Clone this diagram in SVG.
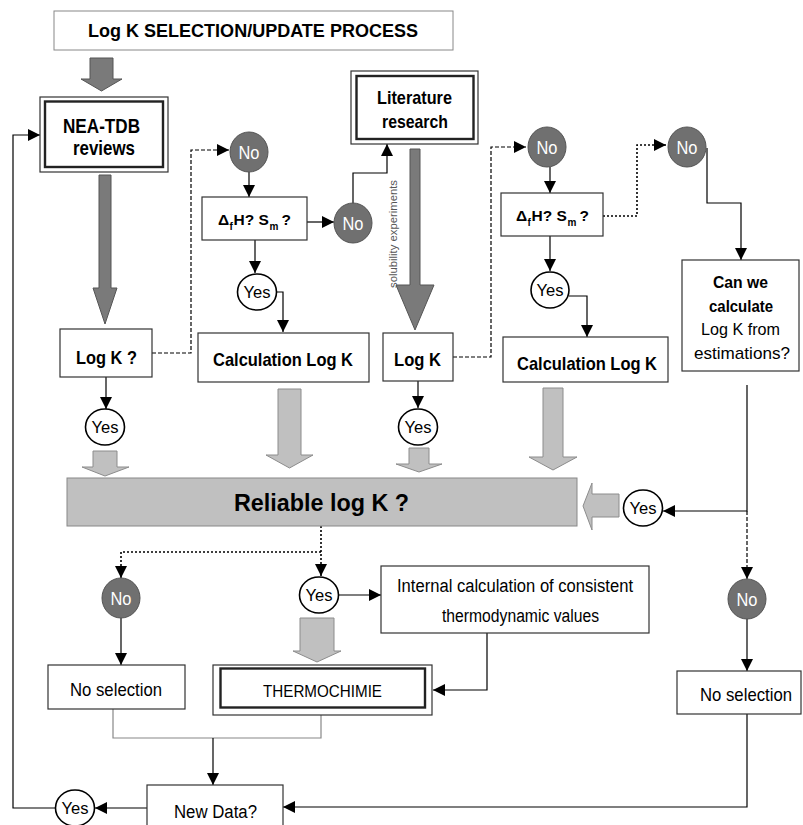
<svg xmlns="http://www.w3.org/2000/svg" width="803" height="825" viewBox="0 0 803 825">
<style>
text{font-family:"Liberation Sans",Arial,sans-serif;fill:#000}
.b{font-weight:bold}
.box{fill:#fff;stroke:#333;stroke-width:1.2}
.thick{fill:none;stroke:#222;stroke-width:2.4}
.no{fill:#707070;stroke:#555;stroke-width:1}
.yes{fill:#fff;stroke:#000;stroke-width:1.6}
.not{fill:#fff;font-size:18px}
.yt{font-size:17px}
.ln{fill:none;stroke:#000;stroke-width:1.2}
.dash{stroke-dasharray:4 2}
.dot{stroke-dasharray:2 2;stroke-width:1.6}
.dk{fill:#7a7a7a;stroke:#555;stroke-width:1}
.lt{fill:#c0c0c0;stroke:#8c8c8c;stroke-width:1}
.dh{font-weight:bold;font-size:15.5px}
.sub{font-weight:bold;font-size:10px}
</style>
<defs>
<marker id="ah" viewBox="0 0 10 10" refX="10" refY="5" markerWidth="12" markerHeight="12" orient="auto" markerUnits="userSpaceOnUse"><path d="M0,0 L10,5 L0,10 z" fill="#000"/></marker>
</defs>

<g id="connectors">
<polygon class="dk" points="90,58 113,58 113,79 122,79 101.5,91 81,79 90,79"/>
<polygon class="dk" points="99,175 111,175 111,288 117,288 105,324 93,288 99,288"/>
<polygon class="dk" points="410,149 420,149 420,285 434,285 415,330 396,285 410,285"/>
<polygon class="lt" points="93,451 117,451 117,467 129,467 105,476 82,467 93,467"/>
<polygon class="lt" points="278,389 301,389 301,455 313,455 289.5,468 266,455 278,455"/>
<polygon class="lt" points="409,448 429,448 429,464 442,464 419,472 396,464 409,464"/>
<polygon class="lt" points="543,388 563,388 563,457 577,457 553,470 529,457 543,457"/>
<polygon class="lt" points="300,618 334,618 334,651 341,651 317,662 293,651 300,651"/>
<polygon class="lt" points="619,494 619,517 592,517 592,530 583,506 592,483 592,494"/>
<path class="ln" d="M55,808 H13 V135 H40" marker-end="url(#ah)"/>
<path class="ln" d="M147,808 H95" marker-end="url(#ah)"/>
<path class="ln" d="M106,377 V409" marker-end="url(#ah)"/>
<path class="ln dash" d="M152,353 H191 V150 H229" marker-end="url(#ah)"/>
<path class="ln" d="M249,172 V197" marker-end="url(#ah)"/>
<path class="ln" d="M307,222 H334" marker-end="url(#ah)"/>
<path class="ln" d="M353,204 V173 H387 V144" marker-end="url(#ah)"/>
<path class="ln" d="M255,240 V273" marker-end="url(#ah)"/>
<path class="ln" d="M276,292 H283 V332" marker-end="url(#ah)"/>
<path class="ln" d="M418,381 V408" marker-end="url(#ah)"/>
<path class="ln dash" d="M453,357 H491 V147 H526" marker-end="url(#ah)"/>
<path class="ln" d="M550,167 V193" marker-end="url(#ah)"/>
<path class="ln" d="M550,236 V271" marker-end="url(#ah)"/>
<path class="ln" d="M569,296 H587 V337" marker-end="url(#ah)"/>
<path class="ln dot" d="M603,216 H637 V145 H666" marker-end="url(#ah)"/>
<path class="ln" d="M707,148 V203 H741 V260" marker-end="url(#ah)"/>
<path class="ln" d="M747,385 V511 H663" marker-end="url(#ah)"/>
<path class="ln dash" d="M747,511 V579" marker-end="url(#ah)"/>
<path class="ln" d="M747,619 V671" marker-end="url(#ah)"/>
<path class="ln" d="M747,714 V807 H283" marker-end="url(#ah)"/>
<path class="ln dot" d="M321,526 V576" marker-end="url(#ah)"/>
<path class="ln dot" d="M321,552 H121 V578" marker-end="url(#ah)"/>
<path class="ln" d="M121,618 V665" marker-end="url(#ah)"/>
<path class="ln" d="M339,595 H381" marker-end="url(#ah)"/>
<path class="ln" d="M487,633 V690 H433" marker-end="url(#ah)"/>
<path d="M113,709 V738 H321 V715" fill="none" stroke="#888" stroke-width="1.2"/>
<path class="ln" d="M213,738 V785" marker-end="url(#ah)"/>
<text x="393" y="234" font-size="10" style="fill:#555" text-anchor="middle" textLength="108" lengthAdjust="spacingAndGlyphs" transform="rotate(-90 393 234)" dy="3.5">solubility experiments</text>
</g>

<g id="title">
<rect x="54" y="11" width="399" height="39" fill="#fff" stroke="#888" stroke-width="1"/>
<text class="b" x="88" y="37" font-size="19" textLength="330" lengthAdjust="spacingAndGlyphs">Log K SELECTION/UPDATE PROCESS</text>
</g>

<g id="nea-tdb">
<rect class="box" x="40" y="97" width="128" height="75"/>
<rect class="thick" x="45" y="101.5" width="118" height="65.5"/>
<text class="b" x="63" y="133" font-size="21" textLength="77" lengthAdjust="spacingAndGlyphs">NEA-TDB</text>
<text class="b" x="73" y="155" font-size="21" textLength="62" lengthAdjust="spacingAndGlyphs">reviews</text>
</g>

<g id="literature">
<rect class="box" x="351" y="71" width="127" height="73"/>
<rect class="thick" x="356.5" y="76" width="117" height="63"/>
<text class="b" x="377" y="104" font-size="19" textLength="75" lengthAdjust="spacingAndGlyphs">Literature</text>
<text class="b" x="382" y="128" font-size="19" textLength="66" lengthAdjust="spacingAndGlyphs">research</text>
</g>

<g id="logk-q">
<rect class="box" x="60" y="329" width="92" height="48"/>
<text class="b" x="76" y="364" font-size="19" textLength="61" lengthAdjust="spacingAndGlyphs">Log K ?</text>
</g>

<g id="no1"><ellipse class="no" cx="249" cy="152" rx="19" ry="20"/><text class="not" x="238.5" y="158.5" textLength="21" lengthAdjust="spacingAndGlyphs">No</text></g>

<g id="dh1">
<rect class="box" x="202" y="197" width="105" height="43"/>
<text class="dh" x="218" y="225">Δ</text>
<text class="sub" x="229.6" y="230">f</text>
<text class="dh" x="233.6" y="225">H? S</text>
<text class="sub" x="269.6" y="230">m</text>
<text class="dh" x="281.5" y="225">?</text>
</g>

<g id="no2"><ellipse class="no" cx="353" cy="223" rx="19" ry="20"/><text class="not" x="342.5" y="229.5" textLength="21" lengthAdjust="spacingAndGlyphs">No</text></g>

<g id="yes2"><ellipse class="yes" cx="257" cy="292" rx="19.5" ry="18"/><text class="yt" x="243.5" y="298" textLength="27" lengthAdjust="spacingAndGlyphs">Yes</text></g>

<g id="calc1">
<rect class="box" x="198" y="333" width="171" height="49"/>
<text class="b" x="213" y="366" font-size="18.5" textLength="140" lengthAdjust="spacingAndGlyphs">Calculation Log K</text>
</g>

<g id="logk-lit">
<rect class="box" x="383" y="333" width="70" height="48"/>
<text class="b" x="394" y="366" font-size="18.5" textLength="47" lengthAdjust="spacingAndGlyphs">Log K</text>
</g>

<g id="no3"><ellipse class="no" cx="547" cy="147" rx="19" ry="20"/><text class="not" x="536.5" y="153.5" textLength="21" lengthAdjust="spacingAndGlyphs">No</text></g>

<g id="dh2">
<rect class="box" x="501" y="193" width="102" height="43"/>
<text class="dh" x="516" y="221">Δ</text>
<text class="sub" x="527.6" y="226">f</text>
<text class="dh" x="531.6" y="221">H? S</text>
<text class="sub" x="567.6" y="226">m</text>
<text class="dh" x="579.5" y="221">?</text>
</g>

<g id="yes4"><ellipse class="yes" cx="550" cy="290" rx="19" ry="18"/><text class="yt" x="536.5" y="296" textLength="27" lengthAdjust="spacingAndGlyphs">Yes</text></g>

<g id="calc2">
<rect class="box" x="503" y="337" width="165" height="45"/>
<text class="b" x="517" y="370" font-size="18.5" textLength="140" lengthAdjust="spacingAndGlyphs">Calculation Log K</text>
</g>

<g id="no4"><ellipse class="no" cx="687" cy="147" rx="19" ry="20"/><text class="not" x="676.5" y="153.5" textLength="21" lengthAdjust="spacingAndGlyphs">No</text></g>

<g id="canwe">
<rect class="box" x="682" y="260" width="117" height="111"/>
<text class="b" x="713" y="288" font-size="17" textLength="55" lengthAdjust="spacingAndGlyphs">Can we</text>
<text class="b" x="709" y="311.5" font-size="17" textLength="64" lengthAdjust="spacingAndGlyphs">calculate</text>
<text x="701" y="335" font-size="17" textLength="79" lengthAdjust="spacingAndGlyphs">Log K from</text>
<text x="694" y="358.5" font-size="17" textLength="96" lengthAdjust="spacingAndGlyphs">estimations?</text>
</g>

<g id="yes1"><ellipse class="yes" cx="105" cy="427" rx="19.5" ry="18"/><text class="yt" x="91.5" y="433" textLength="27" lengthAdjust="spacingAndGlyphs">Yes</text></g>
<g id="yes3"><ellipse class="yes" cx="418" cy="427" rx="19.5" ry="18"/><text class="yt" x="404.5" y="433" textLength="27" lengthAdjust="spacingAndGlyphs">Yes</text></g>

<g id="reliable">
<rect x="67" y="478" width="510" height="48" fill="#c0c0c0" stroke="#888" stroke-width="1"/>
<text class="b" x="234" y="511" font-size="23" textLength="175" lengthAdjust="spacingAndGlyphs">Reliable log K ?</text>
</g>

<g id="yes5"><ellipse class="yes" cx="643" cy="508" rx="19.5" ry="18"/><text class="yt" x="629.5" y="514" textLength="27" lengthAdjust="spacingAndGlyphs">Yes</text></g>

<g id="no5"><ellipse class="no" cx="121" cy="598" rx="19" ry="20"/><text class="not" x="110.5" y="604.5" textLength="21" lengthAdjust="spacingAndGlyphs">No</text></g>
<g id="yes6"><ellipse class="yes" cx="319" cy="595" rx="19.5" ry="18"/><text class="yt" x="305.5" y="601" textLength="27" lengthAdjust="spacingAndGlyphs">Yes</text></g>
<g id="no6"><ellipse class="no" cx="747" cy="599" rx="19" ry="20"/><text class="not" x="736.5" y="605.5" textLength="21" lengthAdjust="spacingAndGlyphs">No</text></g>

<g id="internal">
<rect class="box" x="381" y="566" width="268" height="67"/>
<text x="397" y="592" font-size="18" textLength="236" lengthAdjust="spacingAndGlyphs">Internal calculation of consistent</text>
<text x="442" y="622" font-size="18" textLength="157" lengthAdjust="spacingAndGlyphs">thermodynamic values</text>
</g>

<g id="noselection-left">
<rect class="box" x="48" y="665" width="137" height="44"/>
<text x="70" y="696" font-size="19" textLength="92" lengthAdjust="spacingAndGlyphs">No selection</text>
</g>

<g id="thermochimie">
<rect class="box" x="213" y="665" width="219" height="50"/>
<rect class="thick" x="220.5" y="668.5" width="204.5" height="39"/>
<text x="263" y="697" font-size="16.5" textLength="119" lengthAdjust="spacingAndGlyphs">THERMOCHIMIE</text>
</g>

<g id="noselection-right">
<rect class="box" x="677" y="671" width="124" height="43"/>
<text x="700" y="701" font-size="19" textLength="92" lengthAdjust="spacingAndGlyphs">No selection</text>
</g>

<g id="newdata">
<rect class="box" x="147" y="785" width="136" height="45"/>
<text x="174" y="818" font-size="18" textLength="83" lengthAdjust="spacingAndGlyphs">New Data?</text>
</g>

<g id="yes7"><ellipse class="yes" cx="75" cy="808" rx="19.5" ry="18"/><text class="yt" x="61.5" y="814" textLength="27" lengthAdjust="spacingAndGlyphs">Yes</text></g>
</svg>
